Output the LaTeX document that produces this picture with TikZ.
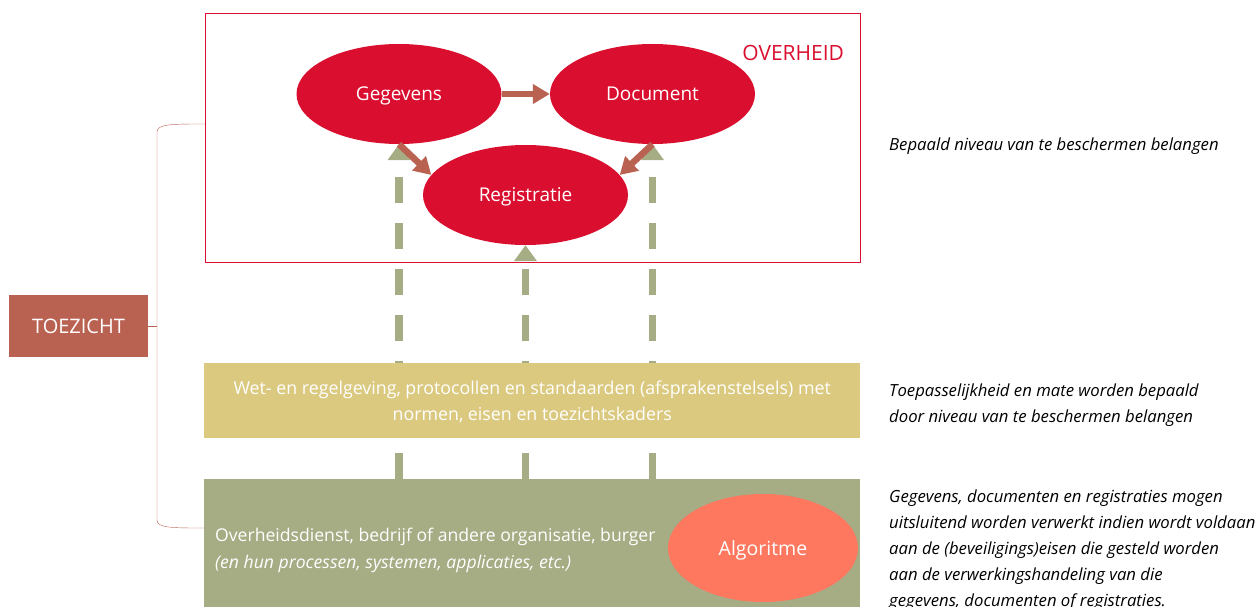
\documentclass[tikz,border=0pt]{standalone}
\usepackage{fontspec}
\setmainfont{Open Sans}
\setsansfont{Open Sans}
\RequirePackage{xcolor}
\definecolor{ovred}{RGB}{218,15,47}
\definecolor{ovbrick}{RGB}{186,98,82}
\definecolor{ovsage}{RGB}{166,172,132}
\definecolor{ovsand}{RGB}{218,201,127}
\definecolor{ovsalmon}{RGB}{253,120,95}
\tikzset{every picture/.style={/utils/exec={\sffamily}}}
\usetikzlibrary{calc}
\usetikzlibrary{positioning, shapes.geometric, arrows.meta, backgrounds}

\tikzset{
  blob/.style={ellipse, fill=ovred, text=white, inner sep=0pt, text depth=0pt, minimum width=205pt, minimum height=100pt, font=\fontsize{19}{22}\selectfont},
  flow/.style={ovbrick, line width=6.5pt, -{Triangle[length=17pt, width=19pt]}},
  check/.style={ovsage, line width=7.5pt, dash pattern=on 26pt off 20pt, -{Triangle[length=16pt, width=22pt]}},
  note/.style={anchor=west, align=left, inner sep=0pt, font=\itshape\fontsize{16.7}{26}\selectfont}
}

\begin{document}
\begin{tikzpicture}[x=1pt, y=-1pt]
  \useasboundingbox (0,0) rectangle (1258,607);

  \node (overheid) [draw=ovred, inner sep=0pt, minimum width=655pt, minimum height=249pt] at (532.5,137.5) {};
  \node [below left=32pt and 16pt of overheid.north east, inner sep=0pt, ovred, font=\fontsize{21}{24}\selectfont] {OVERHEID};

  \node (gegevens) [blob] at (399,94) {Gegevens};
  \node (document) [blob] at (652.5,94) {Document};
  \node (registratie) [blob] at (525.5,195) {Registratie};

  \draw [flow] (gegevens.east) -- (document.west);
  \draw [flow] (gegevens.south) -- (registratie.168);
  \draw [flow] (document.south) -- (registratie.12);

  \node (normbox) [anchor=north west, fill=ovsand, text=white, inner sep=0pt, text depth=0pt, minimum width=656pt, minimum height=75pt, align=center, font=\fontsize{17.8}{26}\selectfont] at (204,363)
    {Wet- en regelgeving, protocollen en standaarden (afsprakenstelsels) met\\normen, eisen en toezichtskaders};

  \node (orgbox) [anchor=north west, fill=ovsage, inner sep=0pt, minimum width=656pt, minimum height=140pt] at (204,479) {};
  \node (orgtext) [anchor=west, text=white, align=left, inner sep=0pt, font=\fontsize{17.6}{27}\selectfont] at (215,550)
    {Overheidsdienst, bedrijf of andere organisatie, burger\\\textit{(en hun processen, systemen, applicaties, etc.)}};
  \node (algoritme) [ellipse, fill=ovsalmon, text=white, text depth=0pt, minimum width=190pt, minimum height=108pt, font=\fontsize{19.5}{22}\selectfont] at (763,548) {Algoritme};

  \begin{scope}[on background layer]
    \draw [check] (gegevens.south |- orgbox.north) -- (gegevens.south);
    \draw [check] (registratie.south |- orgbox.north) -- (registratie.south);
    \draw [check] (document.south |- orgbox.north) -- (document.south);
  \end{scope}

  \node (toezicht) [fill=ovbrick, text=white, minimum width=139pt, minimum height=62pt, font=\fontsize{20}{22}\selectfont] at (78.5,326) {TOEZICHT};
  \coordinate (brtop) at (205,124);
  \coordinate (brbot) at (205,528);
  \coordinate (brmid) at (157,326);
  \draw [ovbrick] (brtop) .. controls (172,124) and (157,124) .. (157,132) -- (157,520) .. controls (157,528) and (172,528) .. (brbot);
  \draw [ovbrick] (toezicht.east) -- (brmid);

  \node (bepaald) [note] at (889,146) {Bepaald niveau van te beschermen belangen};
  \node (toepas) [note] at (889,405) {Toepasselijkheid en mate worden bepaald\\door niveau van te beschermen belangen};
  \node (mogen) [note] at (889,550) {Gegevens, documenten en registraties mogen\\uitsluitend worden verwerkt indien wordt voldaan\\aan de (beveiligings)eisen die gesteld worden\\aan de verwerkingshandeling van die\\gegevens, documenten of registraties.};
\end{tikzpicture}
\end{document}
